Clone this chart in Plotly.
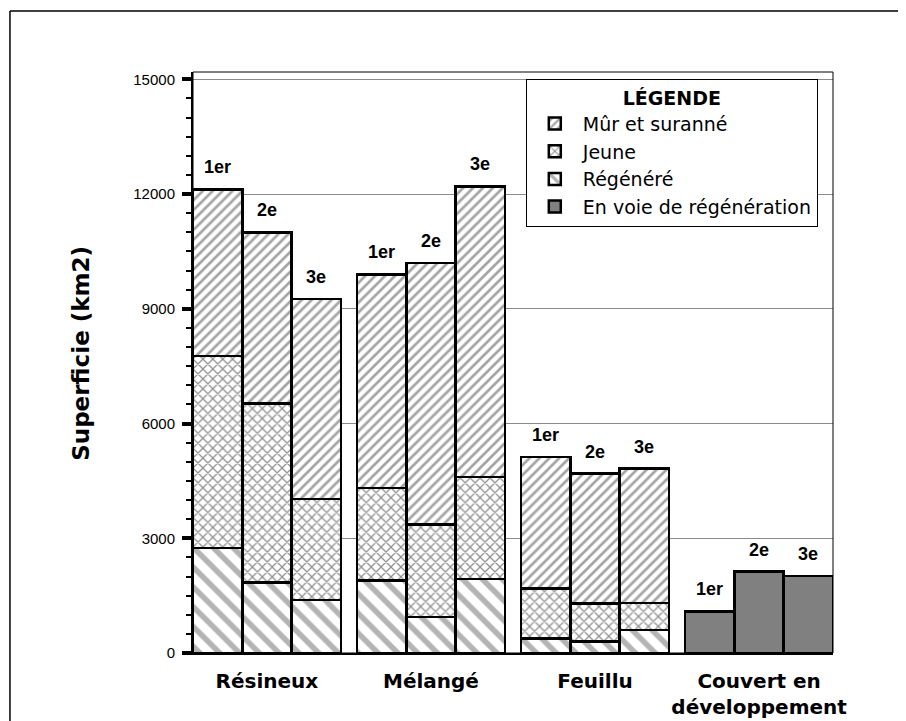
import plotly.graph_objects as go

categories = ["Résineux", "Mélangé", "Feuillu", "Couvert en<br>développement"]
inventaires = ["1er", "2e", "3e"]

# values per bar: Résineux (1er,2e,3e), Mélangé (1er,2e,3e), Feuillu (1er,2e,3e)
regenere = [2750, 1840, 1390, 1900, 940, 1940, 380, 300, 600]
jeune = [5020, 4680, 2630, 2410, 2420, 2660, 1300, 1000, 710]
mur_surannee = [4350, 4480, 5230, 5590, 6840, 7600, 3440, 3390, 3510]
# Couvert en développement (1er, 2e, 3e)
en_voie = [1090, 2130, 2010]

y_ticks = [0, 3000, 6000, 9000, 12000, 15000]
y_tick_labels = ["0", "3000", "6000", "9000", "12000", "15000"]

GROUP_STEP = 3.33
def pos(g, s):
    return g * GROUP_STEP + (s - 1)

x_stack = [pos(g, s) for g in range(3) for s in range(3)]
x_voie = [pos(3, s) for s in range(3)]
group_centers = [pos(g, 1) for g in range(4)]

outline = dict(color="black", width=2.5)
fig = go.Figure()
fig.add_trace(go.Bar(
    x=x_stack, y=regenere, name="Régénéré", width=1, legendrank=3,
    marker=dict(color="white", line=outline,
                pattern=dict(shape="\\", size=14, solidity=0.4, fgcolor="#6a6a6a", bgcolor="white")),
))
fig.add_trace(go.Bar(
    x=x_stack, y=jeune, name="Jeune", width=1, legendrank=2,
    marker=dict(color="white", line=outline,
                pattern=dict(shape="x", size=7, solidity=0.33, fgcolor="#222222", bgcolor="white")),
))
fig.add_trace(go.Bar(
    x=x_stack, y=mur_surannee, name="Mûr et suranné", width=1, legendrank=1,
    marker=dict(color="white", line=outline,
                pattern=dict(shape="/", size=7, solidity=0.38, fgcolor="#4a4a4a", bgcolor="white")),
))
fig.add_trace(go.Bar(
    x=x_voie, y=en_voie, name="En voie de régénération", width=1, legendrank=4,
    marker=dict(color="#808080", line=outline),
))

totals = [r + j + m for r, j, m in zip(regenere, jeune, mur_surannee)]
label_x = x_stack + x_voie
label_y = totals + en_voie
label_t = inventaires * 4
for xv, yv, t in zip(label_x, label_y, label_t):
    fig.add_annotation(x=xv, y=yv, text=t, showarrow=False, yanchor="bottom", yshift=10,
                       font=dict(family="Liberation Sans", size=18, color="black", weight="bold"))

fig.add_annotation(xref="paper", yref="paper", x=-0.175, y=0.515, text="<b>Superficie (km2)</b>",
                   showarrow=False, textangle=-90, xanchor="center", yanchor="middle",
                   font=dict(family="DejaVu Sans", size=23, color="black"))

# plot frame
fig.add_shape(type="rect", xref="paper", yref="paper", x0=0, x1=1, y0=0, y1=1,
              line=dict(color="black", width=1), layer="above")
# outer frame (top and left edges visible in the picture)
fig.add_shape(type="line", xref="paper", yref="paper", x0=-0.286, x1=1.2, y0=1.105, y1=1.105,
              line=dict(color="black", width=1.5))
fig.add_shape(type="line", xref="paper", yref="paper", x0=-0.286, x1=-0.286, y0=-0.3, y1=1.105,
              line=dict(color="black", width=1.5))

fig.update_layout(
    width=898, height=713,
    margin=dict(l=185, r=73, t=64, b=68, autoexpand=False),
    paper_bgcolor="white", plot_bgcolor="white",
    barmode="stack",
    showlegend=True,
    legend=dict(
        x=0.52, y=0.988, xanchor="left", yanchor="top",
        bgcolor="white", bordercolor="black", borderwidth=1,
        traceorder="normal", tracegroupgap=0,
        font=dict(family="DejaVu Sans", size=19, color="black"),
        title=dict(text="<b>LÉGENDE</b>", side="top center",
                   font=dict(family="DejaVu Sans", size=19, color="black")),
        itemwidth=46,
    ),
    xaxis=dict(
        range=[-1.5, 3 * GROUP_STEP + 1.5], automargin=False,
        tickvals=group_centers, ticktext=["<b>" + c.replace("<br>", "</b><br><b>") + "</b>" for c in categories],
        tickfont=dict(family="DejaVu Sans", size=20, color="black"),
        showgrid=False, zeroline=False, showline=True, linecolor="black", linewidth=2,
        ticks="", ticklabelstandoff=9,
    ),
    yaxis=dict(
        range=[0, 15190], automargin=False,
        tickvals=y_ticks, ticktext=y_tick_labels,
        tickfont=dict(family="Liberation Sans", size=15, color="black"),
        showgrid=True, gridcolor="#8a8a8a", gridwidth=1,
        zeroline=False, showline=True, linecolor="black", linewidth=2,
        ticks="outside", ticklen=9, tickwidth=4, tickcolor="black",
        ticklabelstandoff=4,
        minor=dict(dtick=500, ticks="outside", ticklen=5, tickwidth=1.5, tickcolor="black", showgrid=False),
    ),
)

fig.write_html("out.html")
